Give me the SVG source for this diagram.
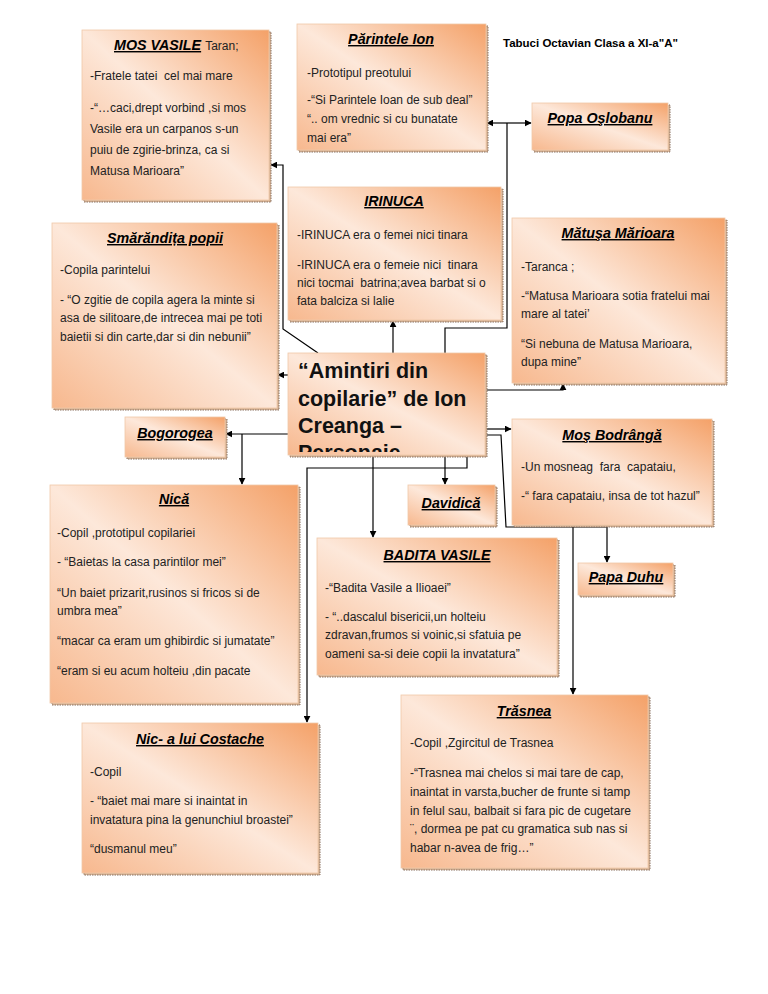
<svg xmlns="http://www.w3.org/2000/svg" width="768" height="994" viewBox="0 0 768 994">
<defs>
<linearGradient id="g" x1="1" y1="0" x2="0" y2="1">
<stop offset="0" stop-color="#f4a168"/>
<stop offset="0.5" stop-color="#fde8da"/>
<stop offset="1" stop-color="#f7b88e"/>
</linearGradient>
<marker id="ah" viewBox="0 0 10 10" refX="9" refY="5" markerWidth="7" markerHeight="7" orient="auto" markerUnits="userSpaceOnUse">
<path d="M0,0 L10,5 L0,10 Z" fill="#000"/>
</marker>
<clipPath id="cc"><rect x="288" y="353" width="197" height="99"/></clipPath>
</defs>
<style>
.box{fill:url(#g);stroke:#f0c8a8;stroke-width:0.8}
.sh{fill:#d8b496;stroke:#8a7260;stroke-width:1;stroke-dasharray:1.5 1}
.t{font-family:"Liberation Sans",Arial,sans-serif;font-size:14.3px;font-weight:bold;font-style:italic;text-decoration:underline;fill:#000}
.b{font-family:"Liberation Sans",Arial,sans-serif;font-size:12px;fill:#222;white-space:pre}
.c{font-family:"Liberation Sans",Arial,sans-serif;font-size:21.5px;font-weight:bold;fill:#111}
.h{font-family:"Liberation Sans",Arial,sans-serif;font-size:11.5px;font-weight:bold;fill:#000}
.ln{fill:none;stroke:#000;stroke-width:1.2}
</style>
<rect width="768" height="994" fill="#fff"/>
<text class="h" x="503" y="47">Tabuci Octavian Clasa a XI-a"A"</text>

<g id="connectors">
<path class="ln" d="M318,353 L283,329 L283,165 L271,165" marker-end="url(#ah)"/>
<path class="ln" d="M288,375 L278,375" marker-end="url(#ah)"/>
<path class="ln" d="M393,353 L393,321" marker-end="url(#ah)"/>
<path class="ln" d="M445,353 L445,328 L507,328 L507,123"/>
<path class="ln" d="M507,123 L487,123" marker-end="url(#ah)"/>
<path class="ln" d="M507,123 L531,123" marker-end="url(#ah)"/>
<path class="ln" d="M485,390 L563,390 L563,384" marker-end="url(#ah)"/>
<path class="ln" d="M485,429 L511,429" marker-end="url(#ah)"/>
<path class="ln" d="M485,435 L501,435 L506,527 L607,527 L607,562" marker-end="url(#ah)"/>
<path class="ln" d="M573,527 L573,694" marker-end="url(#ah)"/>
<path class="ln" d="M288,434 L226,434" marker-end="url(#ah)"/>
<path class="ln" d="M242,434 L242,484" marker-end="url(#ah)"/>
<path class="ln" d="M373,455 L373,537" marker-end="url(#ah)"/>
<path class="ln" d="M445,455 L445,484" marker-end="url(#ah)"/>
<path class="ln" d="M467,455 L467,468 L307,468 L307,722" marker-end="url(#ah)"/>
</g>

<g id="mos-vasile">
<rect class="sh" x="84" y="32" width="187" height="170"/>
<rect class="box" x="82" y="30" width="187" height="170"/>
<text x="114" y="50"><tspan class="t">MOS VASILE</tspan><tspan class="b" dx="4">Taran;</tspan></text>
<text class="b" x="90" y="80">-Fratele tatei  cel mai mare</text>
<text class="b" x="90" y="112">-“…caci,drept vorbind ,si mos</text>
<text class="b" x="90" y="133">Vasile era un carpanos s-un</text>
<text class="b" x="90" y="154">puiu de zgirie-brinza, ca si</text>
<text class="b" x="90" y="175">Matusa Marioara”</text>
</g>

<g id="parintele-ion">
<rect class="sh" x="299" y="26" width="189" height="126"/>
<rect class="box" x="297" y="24" width="189" height="126"/>
<text class="t" x="391" y="44" text-anchor="middle">Părintele Ion</text>
<text class="b" x="307" y="77">-Prototipul preotului</text>
<text class="b" x="307" y="104">-“Si Parintele Ioan de sub deal”</text>
<text class="b" x="307" y="123">“.. om vrednic si cu bunatate</text>
<text class="b" x="307" y="142">mai era”</text>
</g>

<g id="popa-oslobanu">
<rect class="sh" x="534" y="105" width="136" height="47"/>
<rect class="box" x="532" y="103" width="136" height="47"/>
<text class="t" x="600" y="123" text-anchor="middle">Popa Oşlobanu</text>
</g>

<g id="irinuca">
<rect class="sh" x="290" y="189" width="213" height="133"/>
<rect class="box" x="288" y="187" width="213" height="133"/>
<text class="t" x="394" y="206" text-anchor="middle">IRINUCA</text>
<text class="b" x="297" y="239">-IRINUCA era o femei nici tinara</text>
<text class="b" x="297" y="269">-IRINUCA era o femeie nici  tinara</text>
<text class="b" x="297" y="287">nici tocmai  batrina;avea barbat si o</text>
<text class="b" x="297" y="305">fata balciza si lalie</text>
</g>

<g id="smarandita">
<rect class="sh" x="54" y="225" width="225" height="185"/>
<rect class="box" x="52" y="223" width="225" height="185"/>
<text class="t" x="165" y="243" text-anchor="middle">Smărăndița popii</text>
<text class="b" x="60" y="274">-Copila parintelui</text>
<text class="b" x="60" y="304">- “O zgitie de copila agera la minte si</text>
<text class="b" x="60" y="322">asa de silitoare,de intrecea mai pe toti</text>
<text class="b" x="60" y="341">baietii si din carte,dar si din nebunii”</text>
</g>

<g id="matusa-marioara">
<rect class="sh" x="514" y="220" width="213" height="165"/>
<rect class="box" x="512" y="218" width="213" height="165"/>
<text class="t" x="618" y="238" text-anchor="middle">Mătuşa Mărioara</text>
<text class="b" x="521" y="271">-Taranca ;</text>
<text class="b" x="521" y="300">-“Matusa Marioara sotia fratelui mai</text>
<text class="b" x="521" y="318">mare al tatei’</text>
<text class="b" x="521" y="348">“Si nebuna de Matusa Marioara,</text>
<text class="b" x="521" y="366">dupa mine”</text>
</g>

<g id="center">
<rect class="sh" x="290" y="355" width="197" height="102"/>
<rect class="box" x="288" y="353" width="197" height="102"/>
<g clip-path="url(#cc)">
<text class="c" x="298" y="378">“Amintiri din</text>
<text class="c" x="298" y="406">copilarie” de Ion</text>
<text class="c" x="298" y="433">Creanga –</text>
<text class="c" x="298" y="460">Personaje</text>
</g>
</g>

<g id="bogorogea">
<rect class="sh" x="127" y="419" width="100" height="40"/>
<rect class="box" x="125" y="417" width="100" height="40"/>
<text class="t" x="175" y="438" text-anchor="middle">Bogorogea</text>
</g>

<g id="mos-bodranga">
<rect class="sh" x="514" y="421" width="200" height="106"/>
<rect class="box" x="512" y="419" width="200" height="106"/>
<text class="t" x="612" y="440" text-anchor="middle">Moş Bodrângă</text>
<text class="b" x="521" y="471">-Un mosneag  fara  capataiu,</text>
<text class="b" x="521" y="500">-“ fara capataiu, insa de tot hazul”</text>
</g>

<g id="davidica">
<rect class="sh" x="410" y="487" width="87" height="40"/>
<rect class="box" x="408" y="485" width="87" height="40"/>
<text class="t" x="451" y="508" text-anchor="middle">Davidică</text>
</g>

<g id="nica">
<rect class="sh" x="52" y="487" width="248" height="218"/>
<rect class="box" x="50" y="485" width="248" height="218"/>
<text class="t" x="174" y="504" text-anchor="middle">Nică</text>
<text class="b" x="57" y="537">-Copil ,prototipul copilariei</text>
<text class="b" x="57" y="566">- “Baietas la casa parintilor mei”</text>
<text class="b" x="57" y="597">“Un baiet prizarit,rusinos si fricos si de</text>
<text class="b" x="57" y="615">umbra mea”</text>
<text class="b" x="57" y="645">“macar ca eram um ghibirdic si jumatate”</text>
<text class="b" x="57" y="675">“eram si eu acum holteiu ,din pacate</text>
</g>

<g id="badita-vasile">
<rect class="sh" x="319" y="540" width="240" height="137"/>
<rect class="box" x="317" y="538" width="240" height="137"/>
<text class="t" x="437" y="560" text-anchor="middle">BADITA VASILE</text>
<text class="b" x="325" y="592">-“Badita Vasile a Ilioaei”</text>
<text class="b" x="325" y="621">- “..dascalul bisericii,un holteiu</text>
<text class="b" x="325" y="639">zdravan,frumos si voinic,si sfatuia pe</text>
<text class="b" x="325" y="658">oameni sa-si deie copii la invatatura”</text>
</g>

<g id="papa-duhu">
<rect class="sh" x="580" y="565" width="95" height="32"/>
<rect class="box" x="578" y="563" width="95" height="32"/>
<text class="t" x="626" y="582" text-anchor="middle">Papa Duhu</text>
</g>

<g id="nic-costache">
<rect class="sh" x="84" y="725" width="236" height="150"/>
<rect class="box" x="82" y="723" width="236" height="150"/>
<text class="t" x="200" y="744" text-anchor="middle">Nic- a lui Costache</text>
<text class="b" x="90" y="776">-Copil</text>
<text class="b" x="90" y="805">- “baiet mai mare si inaintat in</text>
<text class="b" x="90" y="824">invatatura pina la genunchiul broastei”</text>
<text class="b" x="90" y="853">“dusmanul meu”</text>
</g>

<g id="trasnea">
<rect class="sh" x="403" y="697" width="247" height="173"/>
<rect class="box" x="401" y="695" width="247" height="173"/>
<text class="t" x="524" y="716" text-anchor="middle">Trăsnea</text>
<text class="b" x="410" y="747">-Copil ,Zgircitul de Trasnea</text>
<text class="b" x="410" y="777">-“Trasnea mai chelos si mai tare de cap,</text>
<text class="b" x="410" y="796">inaintat in varsta,bucher de frunte si tamp</text>
<text class="b" x="410" y="815">in felul sau, balbait si fara pic de cugetare</text>
<text class="b" x="410" y="833">¨, dormea pe pat cu gramatica sub nas si</text>
<text class="b" x="410" y="852">habar n-avea de frig…”</text>
</g>
</svg>
